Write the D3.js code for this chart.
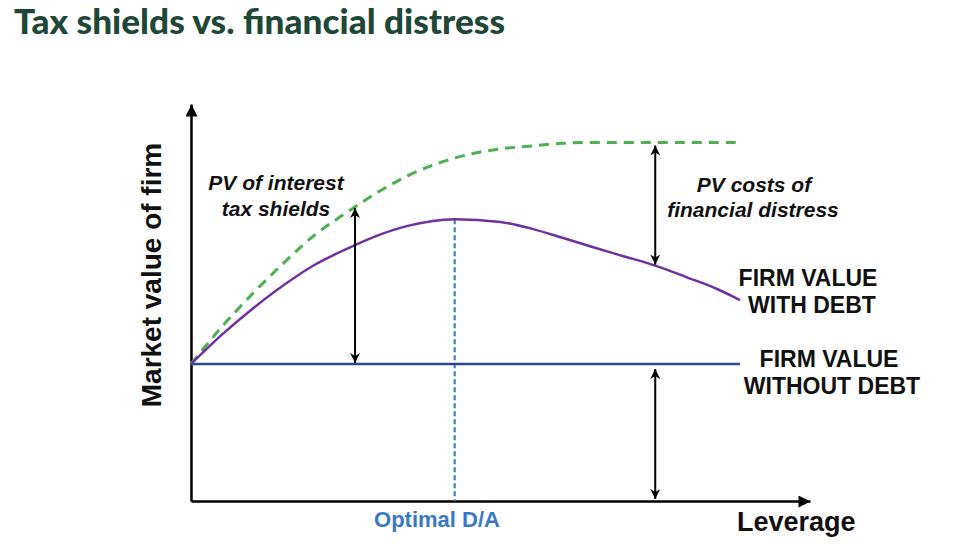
<!DOCTYPE html>
<html>
<head>
<meta charset="utf-8">
<script src="https://cdn.jsdelivr.net/npm/d3@7"></script>
<style>
  body { margin: 0; background: #fff; }
  svg { display: block; }
  .lab { font-family: "Liberation Sans", Arial, sans-serif; font-weight: bold; fill: #111; }
</style>
</head>
<body>
<svg id="chart" width="958" height="552"></svg>
<script>
// leverage (D/A, arbitrary units) and firm values
var leverage = [0, 5, 10, 15, 20, 25, 30, 35, 42.6, 50, 55, 60, 65, 70, 75, 80, 85, 88.7];
var valueWithDebt = [34.5, 41.9, 48.5, 54.4, 59.5, 63.4, 66.8, 69.3, 71.0, 70.3, 68.6, 66.3, 63.9, 61.6, 59.3, 56.4, 53.4, 50.6];
var shieldLeverage = [0, 5, 10, 15, 20, 25, 30, 35, 42.6, 50, 55, 60, 65, 70, 75, 80, 85, 88];
var valueWithShields = [34.5, 43.9, 52.3, 60.0, 67.0, 72.5, 77.6, 81.9, 86.4, 88.7, 89.4, 90.1, 90.3, 90.3, 90.3, 90.3, 90.3, 90.3];
var valueWithoutDebt = 34.5;
var leverageEnd = 88.7;
var optimalDA = 42.6;
var shieldArrowAt = 26.5;
var distressArrowAt = 75;

var svg = d3.select("#chart");

var x = d3.scaleLinear().domain([0, 100]).range([191, 810]);
var y = d3.scaleLinear().domain([0, 100]).range([501, 104]);

var defs = svg.append("defs");
defs.append("marker")
    .attr("id", "axisHead")
    .attr("viewBox", "0 0 10 10")
    .attr("refX", 10).attr("refY", 5)
    .attr("markerUnits", "userSpaceOnUse")
    .attr("markerWidth", 14).attr("markerHeight", 12)
    .attr("orient", "auto")
  .append("path")
    .attr("d", "M0,0L10,5L0,10z")
    .attr("fill", "#000");
defs.append("marker")
    .attr("id", "head")
    .attr("viewBox", "0 0 10 10")
    .attr("refX", 10).attr("refY", 5)
    .attr("markerUnits", "userSpaceOnUse")
    .attr("markerWidth", 11).attr("markerHeight", 10)
    .attr("orient", "auto-start-reverse")
  .append("path")
    .attr("d", "M0,0L10,5L0,10L3,5z")
    .attr("fill", "#000");

// title
svg.append("text")
    .attr("x", 14).attr("y", 34)
    .attr("textLength", 491).attr("lengthAdjust", "spacingAndGlyphs")
    .style("font-family", "Lato, 'Open Sans', sans-serif")
    .style("font-weight", "900")
    .style("font-size", "34px")
    .style("fill", "#1e4737")
    .text("Tax shields vs. financial distress");

// axes, no ticks, arrow at the end of the domain line
var xAxis = d3.axisBottom(x).tickValues([]).tickSizeOuter(0);
var yAxis = d3.axisLeft(y).tickValues([]).tickSizeOuter(0);
svg.append("g").attr("transform", "translate(0," + y(0) + ")").call(xAxis)
    .select(".domain").attr("stroke-width", 2.5).attr("marker-end", "url(#axisHead)");
svg.append("g").attr("transform", "translate(" + x(0) + ",0)").call(yAxis)
    .select(".domain").attr("stroke-width", 2.5).attr("marker-end", "url(#axisHead)");

// optimal D/A
svg.append("line")
    .attr("x1", x(optimalDA)).attr("x2", x(optimalDA))
    .attr("y1", y(d3.max(valueWithDebt))).attr("y2", y(0))
    .attr("stroke", "#3a7fcf").attr("stroke-width", 2.2)
    .attr("stroke-dasharray", "5,3");

// firm value without debt
svg.append("line")
    .attr("x1", x(0)).attr("x2", x(leverageEnd))
    .attr("y1", y(valueWithoutDebt)).attr("y2", y(valueWithoutDebt))
    .attr("stroke", "#2b4a8c").attr("stroke-width", 2.5);

var line = d3.line().curve(d3.curveMonotoneX);

svg.append("path")
    .attr("d", line(shieldLeverage.map(function(d, i) { return [x(d), y(valueWithShields[i])]; })))
    .attr("fill", "none")
    .attr("stroke", "#4cb050").attr("stroke-width", 3)
    .attr("stroke-dasharray", "10,7");

svg.append("path")
    .attr("d", line(leverage.map(function(d, i) { return [x(d), y(valueWithDebt[i])]; })))
    .attr("fill", "none")
    .attr("stroke", "#7030a0").attr("stroke-width", 2.5);

// double arrows
function interp(xs, ys, v) {
    var i = d3.bisectRight(xs, v) - 1;
    var t = (v - xs[i]) / (xs[i + 1] - xs[i]);
    return ys[i] + t * (ys[i + 1] - ys[i]);
}
function arrow(at, top, bottom, gapTop, gapBottom) {
    svg.append("line")
        .attr("x1", x(at)).attr("x2", x(at))
        .attr("y1", y(top) + gapTop).attr("y2", y(bottom) - gapBottom)
        .attr("stroke", "#000").attr("stroke-width", 2)
        .attr("marker-start", "url(#head)")
        .attr("marker-end", "url(#head)");
}
arrow(shieldArrowAt, interp(shieldLeverage, valueWithShields, shieldArrowAt), valueWithoutDebt, 1, 1);
arrow(distressArrowAt, interp(shieldLeverage, valueWithShields, distressArrowAt), interp(leverage, valueWithDebt, distressArrowAt), 3, 1);
arrow(distressArrowAt, valueWithoutDebt, 0, 5, 2);

// labels
function label(txt, cx, by, size, italic, color) {
    svg.append("text").attr("class", "lab")
        .attr("x", cx).attr("y", by)
        .attr("text-anchor", "middle")
        .style("font-size", size + "px")
        .style("font-style", italic ? "italic" : "normal")
        .style("fill", color || "#111")
        .text(txt);
}
label("PV of interest", 276, 190, 21, true);
label("tax shields", 276, 216, 21, true);
label("PV costs of", 754, 192, 21, true);
label("financial distress", 753, 217, 21, true);
label("FIRM VALUE", 808, 286, 23);
label("WITH DEBT", 812, 313, 23);
label("FIRM VALUE", 829, 367, 23);
label("WITHOUT DEBT", 832, 394, 23);
label("Optimal D/A", 437, 527, 22, false, "#3a78c4");

svg.append("text").attr("class", "lab")
    .attr("x", 737).attr("y", 531)
    .style("font-size", "27px")
    .text("Leverage");

svg.append("text").attr("class", "lab")
    .attr("transform", "translate(161,275) rotate(-90)")
    .attr("text-anchor", "middle")
    .style("font-size", "28px")
    .text("Market value of firm");
</script>
</body>
</html>
